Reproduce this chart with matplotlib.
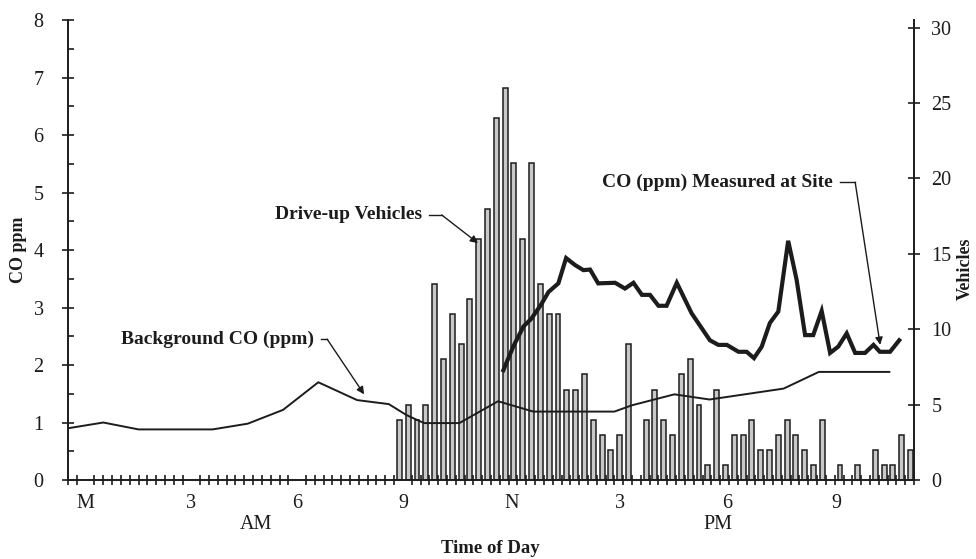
import matplotlib.pyplot as plt
from matplotlib.ticker import MultipleLocator

plt.rcParams['font.family'] = ['Liberation Serif', 'DejaVu Serif']

# drive-up vehicles per 15 minute interval, first interval starts 9:15 AM
interval_start = 9.25
interval_len = 0.25
vehicles = [4, 5, 4, 5, 13, 8, 11, 9, 12, 16, 18, 24, 26, 21, 16, 21, 13, 11, 11, 6,
            6, 7, 4, 3, 2, 3, 9, 0, 4, 6, 4, 3, 7, 8, 5, 1, 6, 1, 3, 3,
            4, 2, 2, 3, 4, 3, 2, 1, 4, 0, 1, 0, 1, 0, 2, 1, 1, 3, 2]

# background CO (ppm), hours after midnight
bg_hours = [0.0, 1.0, 2.0, 4.1, 5.1, 5.6, 6.1, 7.1, 8.2, 9.1, 9.6, 10.1, 11.1,
            12.2, 13.2, 15.5, 16.0, 17.2, 18.2, 20.3, 21.3, 23.3]
bg_co = [0.9, 1.0, 0.88, 0.88, 0.98, 1.1, 1.22, 1.7, 1.39, 1.32, 1.13, 0.99, 0.99,
         1.37, 1.19, 1.19, 1.3, 1.49, 1.4, 1.59, 1.88, 1.88]

# CO (ppm) measured at site
site_hours = [12.35, 12.63, 12.92, 13.15, 13.44, 13.63, 13.91, 14.13, 14.38, 14.62,
              14.81, 15.04, 15.52, 15.8, 16.04, 16.28, 16.51, 16.75, 16.98, 17.27,
              17.69, 18.21, 18.45, 18.69, 19.02, 19.25, 19.46, 19.68, 19.91, 20.15,
              20.43, 20.67, 20.91, 21.14, 21.38, 21.62, 21.85, 22.09, 22.33, 22.61,
              22.85, 23.03, 23.32, 23.58]
site_co = [1.91, 2.32, 2.67, 2.81, 3.07, 3.27, 3.42, 3.86, 3.74, 3.65,
           3.66, 3.42, 3.43, 3.33, 3.43, 3.22, 3.22, 3.03, 3.03, 3.43,
           2.9, 2.43, 2.35, 2.35, 2.23, 2.23, 2.12, 2.32, 2.73, 2.93,
           4.16, 3.48, 2.52, 2.52, 2.94, 2.21, 2.32, 2.55, 2.21, 2.21,
           2.35, 2.23, 2.23, 2.43]

hour_labels = ['M', '3', '6', '9', 'N', '3', '6', '9']
label_pos = [0.5, 3.5, 6.5, 9.5, 12.6, 15.65, 18.7, 21.8]

ink = '#1c1c1c'

fig = plt.figure(figsize=(9.76, 5.59), dpi=100)
ax = fig.add_axes([0.0697, 0.1413, 0.8668, 0.8229])
ax2 = ax.twinx()

# bars (right axis)
bx = []
bh = []
for i, v in enumerate(vehicles):
    if v > 0:
        bx.append(interval_start + i * interval_len + 0.15)
        bh.append(v)
ax2.bar(bx, bh, width=0.14, color='#c8c8c8', edgecolor=ink, linewidth=1.1)

# lines (left axis), drawn on top of the bars
ax.set_zorder(ax2.get_zorder() + 1)
ax.patch.set_visible(False)
ax.plot(bg_hours, bg_co, color=ink, lw=1.4)
ax.plot(site_hours, site_co, color=ink, lw=3.0, solid_joinstyle='miter')

ax.set_xlim(0, 24)
ax.set_ylim(0, 8)
ax2.set_ylim(0, 30.5)

for s in ['top', 'right']:
    ax.spines[s].set_visible(False)
ax2.spines['top'].set_visible(False)
ax2.spines['left'].set_visible(False)
ax2.spines['bottom'].set_visible(False)
for sp in [ax.spines['left'], ax.spines['bottom'], ax2.spines['right']]:
    sp.set_linewidth(1.4)
    sp.set_color(ink)

ax.yaxis.set_major_locator(MultipleLocator(1))
ax.yaxis.set_minor_locator(MultipleLocator(0.5))
ax.tick_params(axis='y', which='major', direction='inout', length=9, width=1.2,
               labelsize=14.5, pad=13, colors=ink)
ax.tick_params(axis='y', which='minor', direction='in', length=4.5, width=1.2, colors=ink)

ax.set_xticks(label_pos)
ax.set_xticklabels(hour_labels)
ax.xaxis.set_minor_locator(MultipleLocator(0.25))
ax.tick_params(axis='x', which='major', length=0, labelsize=14.5, pad=10, colors=ink)
ax.tick_params(axis='x', which='minor', direction='inout', length=7, width=1.2, colors=ink)

ax2.yaxis.set_major_locator(MultipleLocator(5))
ax2.tick_params(axis='y', which='major', direction='inout', length=9, width=1.2,
                labelsize=14.5, pad=8, colors=ink)

ax.set_ylabel('CO ppm', fontsize=13, fontweight='bold', color=ink)
ax.yaxis.set_label_coords(-0.048, 0.5)
ax2.set_ylabel('Vehicles', fontsize=13, fontweight='bold', color=ink)
ax2.yaxis.set_label_coords(1.051, 0.46)

ax.text(5.33, -0.78, 'AM', fontsize=14.5, color=ink, ha='center', va='center')
ax.text(18.44, -0.78, 'PM', fontsize=14.5, color=ink, ha='center', va='center')
ax.text(11.97, -1.19, 'Time of Day', fontsize=13.5, fontweight='bold', color=ink,
        ha='center', va='center')

# annotations
def leader(label, text_end, corner, target):
    ax.text(text_end[0], text_end[1], label, fontsize=14, fontweight='bold',
            color=ink, ha='right', va='center')
    ax.plot([text_end[0] + 0.2, corner[0]], [text_end[1], corner[1]], color=ink, lw=1.0)
    ax.annotate('', xy=target, xytext=corner,
                arrowprops=dict(arrowstyle='-|>', color=ink, lw=1.0,
                                mutation_scale=11, shrinkA=0, shrinkB=0))

leader('Drive-up Vehicles', (10.04, 4.61), (10.6, 4.61), (11.63, 4.12))
leader('CO (ppm) Measured at Site', (21.7, 5.18), (22.33, 5.18), (23.04, 2.35))
leader('Background CO (ppm)', (6.98, 2.45), (7.35, 2.45), (8.4, 1.49))

fig.savefig('out.png', dpi=100)
